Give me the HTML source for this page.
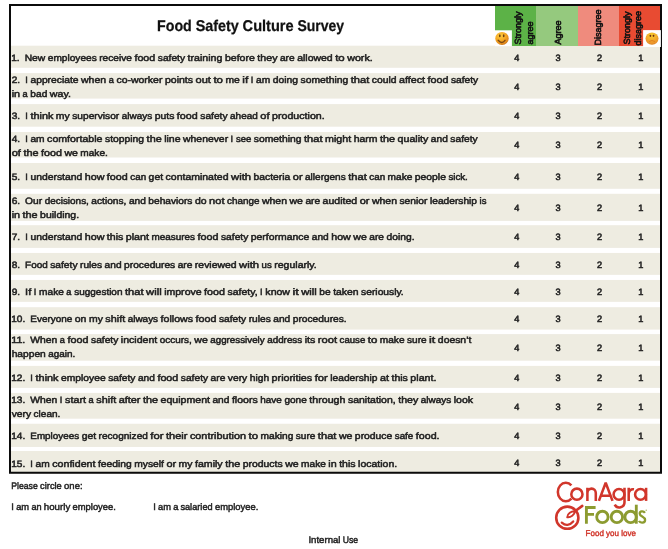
<!DOCTYPE html>
<html><head><meta charset="utf-8"><title>Food Safety Culture Survey</title>
<style>
html,body{margin:0;padding:0;background:#fff;}
body{width:668px;height:549px;position:relative;overflow:hidden;font-family:"Liberation Sans",sans-serif;}
svg{position:absolute;left:0;top:0;}
svg.tx{will-change:transform;filter:blur(0.55px);}
svg text{font-family:"Liberation Sans",sans-serif;text-rendering:geometricPrecision;}
</style></head><body>
<svg width="668" height="549" viewBox="0 0 668 549">
<g fill="#EEECE1">
<rect x="11" y="45.7" width="649" height="22.1"/>
<rect x="11" y="73.1" width="649" height="25.5"/>
<rect x="11" y="104.1" width="649" height="22.6"/>
<rect x="11" y="132.0" width="649" height="25.5"/>
<rect x="11" y="163.0" width="649" height="25.8"/>
<rect x="11" y="193.8" width="649" height="27.1"/>
<rect x="11" y="225.2" width="649" height="22.7"/>
<rect x="11" y="252.95" width="649" height="21.9"/>
<rect x="11" y="279.95" width="649" height="21.9"/>
<rect x="11" y="307.2" width="649" height="22.4"/>
<rect x="11" y="334.1" width="649" height="26.6"/>
<rect x="11" y="365.9" width="649" height="22.0"/>
<rect x="11" y="392.9" width="649" height="25.8"/>
<rect x="11" y="423.75" width="649" height="23.2"/>
<rect x="11" y="451.0" width="649" height="22.6"/>
</g>
<rect x="495" y="6" width="41" height="40.0" fill="#5CB247"/>
<rect x="536" y="6" width="42" height="40.0" fill="#95C97E"/>
<rect x="578" y="6" width="41" height="40.0" fill="#EF8B7D"/>
<rect x="619" y="6" width="41" height="40.0" fill="#E84B32"/>
<rect x="495" y="30.3" width="16.9" height="15.9" fill="#fff"/>
<path d="M10 5 H661 V472.7 H10 Z" fill="none" stroke="#0b0b0b" stroke-width="2"/>
<rect x="643.1" y="30.1" width="17.8" height="16.9" fill="#fff"/>
</svg>
<svg width="668" height="549" viewBox="0 0 668 549">
<defs>
<radialGradient id="sg" cx="0.38" cy="0.3" r="0.78"><stop offset="0" stop-color="#FCCB40"/><stop offset="0.5" stop-color="#F5A822"/><stop offset="0.82" stop-color="#E2891B"/><stop offset="1" stop-color="#B8650F"/></radialGradient>
<radialGradient id="fg" cx="0.48" cy="0.24" r="0.82"><stop offset="0" stop-color="#F6CC2E"/><stop offset="0.45" stop-color="#F3AE2C"/><stop offset="0.8" stop-color="#EA922A"/><stop offset="1" stop-color="#CC781D"/></radialGradient>
</defs>
<ellipse cx="502" cy="38.4" rx="6.7" ry="6.5" fill="url(#sg)"/>
<ellipse cx="499.8" cy="35.8" rx="0.85" ry="1.5" fill="#6a3f10"/><ellipse cx="503.7" cy="35.8" rx="0.85" ry="1.5" fill="#6a3f10"/>
<path d="M498.2 40.3 Q501.8 44.6 505 40.3" fill="none" stroke="#7a4712" stroke-width="1.4" stroke-linecap="round"/>
<ellipse cx="652" cy="38.6" rx="6.5" ry="6.1" fill="url(#fg)"/>
<ellipse cx="650.4" cy="35.8" rx="0.9" ry="1.1" fill="#6e300f"/><ellipse cx="653.5" cy="35.8" rx="0.9" ry="1.1" fill="#6e300f"/>
<path d="M649.4 41.3 Q652 39.5 654.6 41.3" fill="none" stroke="#DE7E22" stroke-width="1.0" stroke-linecap="round"/>
</svg>
<svg class="tx" width="668" height="549" viewBox="0 0 668 549">
<g font-size="15.6" font-weight="bold" fill="#111" stroke="#111" stroke-width="0.25"><text x="157.00" y="31.00" textLength="34.77" lengthAdjust="spacingAndGlyphs">Food</text><text x="195.63" y="31.00" textLength="43.12" lengthAdjust="spacingAndGlyphs">Safety</text><text x="242.60" y="31.00" textLength="51.06" lengthAdjust="spacingAndGlyphs">Culture</text><text x="297.51" y="31.00" textLength="46.64" lengthAdjust="spacingAndGlyphs">Survey</text></g>
<g font-size="9.2" fill="#222222" stroke="#222222" stroke-width="0.5">
<text x="11.25" y="61.00" textLength="8.42" lengthAdjust="spacingAndGlyphs">1.</text><text x="24.68" y="61.00" textLength="20.59" lengthAdjust="spacingAndGlyphs">New</text><text x="47.78" y="61.00" textLength="48.97" lengthAdjust="spacingAndGlyphs">employees</text><text x="99.25" y="61.00" textLength="32.65" lengthAdjust="spacingAndGlyphs">receive</text><text x="134.41" y="61.00" textLength="20.90" lengthAdjust="spacingAndGlyphs">food</text><text x="157.81" y="61.00" textLength="27.27" lengthAdjust="spacingAndGlyphs">safety</text><text x="187.59" y="61.00" textLength="34.84" lengthAdjust="spacingAndGlyphs">training</text><text x="224.94" y="61.00" textLength="29.95" lengthAdjust="spacingAndGlyphs">before</text><text x="257.39" y="61.00" textLength="20.07" lengthAdjust="spacingAndGlyphs">they</text><text x="279.97" y="61.00" textLength="14.69" lengthAdjust="spacingAndGlyphs">are</text><text x="297.17" y="61.00" textLength="35.51" lengthAdjust="spacingAndGlyphs">allowed</text><text x="335.18" y="61.00" textLength="9.56" lengthAdjust="spacingAndGlyphs">to</text><text x="347.24" y="61.00" textLength="25.47" lengthAdjust="spacingAndGlyphs">work.</text>
<text x="516.70" y="61" text-anchor="middle" stroke-width="0.55">4</text><text x="558.10" y="61" text-anchor="middle" stroke-width="0.55">3</text><text x="599.50" y="61" text-anchor="middle" stroke-width="0.55">2</text><text x="640.80" y="61" text-anchor="middle" stroke-width="0.55">1</text>
<text x="11.70" y="83.00" textLength="8.42" lengthAdjust="spacingAndGlyphs">2.</text><text x="25.13" y="83.00">I</text><text x="30.43" y="83.00" textLength="48.11" lengthAdjust="spacingAndGlyphs">appreciate</text><text x="81.04" y="83.00" textLength="25.09" lengthAdjust="spacingAndGlyphs">when</text><text x="108.63" y="83.00">a</text><text x="116.45" y="83.00" textLength="45.98" lengthAdjust="spacingAndGlyphs">co-worker</text><text x="164.94" y="83.00" textLength="28.09" lengthAdjust="spacingAndGlyphs">points</text><text x="195.53" y="83.00" textLength="15.38" lengthAdjust="spacingAndGlyphs">out</text><text x="213.42" y="83.00" textLength="9.56" lengthAdjust="spacingAndGlyphs">to</text><text x="225.48" y="83.00" textLength="14.37" lengthAdjust="spacingAndGlyphs">me</text><text x="242.36" y="83.00" textLength="5.93" lengthAdjust="spacingAndGlyphs">if</text><text x="250.79" y="83.00">I</text><text x="256.09" y="83.00" textLength="14.16" lengthAdjust="spacingAndGlyphs">am</text><text x="272.76" y="83.00" textLength="25.26" lengthAdjust="spacingAndGlyphs">doing</text><text x="300.52" y="83.00" textLength="47.67" lengthAdjust="spacingAndGlyphs">something</text><text x="350.70" y="83.00" textLength="18.56" lengthAdjust="spacingAndGlyphs">that</text><text x="371.77" y="83.00" textLength="24.72" lengthAdjust="spacingAndGlyphs">could</text><text x="399.00" y="83.00" textLength="25.99" lengthAdjust="spacingAndGlyphs">affect</text><text x="427.50" y="83.00" textLength="20.90" lengthAdjust="spacingAndGlyphs">food</text><text x="450.90" y="83.00" textLength="27.27" lengthAdjust="spacingAndGlyphs">safety</text>
<text x="11.70" y="97.00" textLength="8.37" lengthAdjust="spacingAndGlyphs">in</text><text x="22.57" y="97.00">a</text><text x="30.39" y="97.00" textLength="16.96" lengthAdjust="spacingAndGlyphs">bad</text><text x="49.85" y="97.00" textLength="21.05" lengthAdjust="spacingAndGlyphs">way.</text>
<text x="516.70" y="90" text-anchor="middle" stroke-width="0.55">4</text><text x="558.10" y="90" text-anchor="middle" stroke-width="0.55">3</text><text x="599.50" y="90" text-anchor="middle" stroke-width="0.55">2</text><text x="640.80" y="90" text-anchor="middle" stroke-width="0.55">1</text>
<text x="11.70" y="119.00" textLength="8.42" lengthAdjust="spacingAndGlyphs">3.</text><text x="25.13" y="119.00">I</text><text x="30.43" y="119.00" textLength="22.94" lengthAdjust="spacingAndGlyphs">think</text><text x="55.88" y="119.00" textLength="13.87" lengthAdjust="spacingAndGlyphs">my</text><text x="72.26" y="119.00" textLength="46.96" lengthAdjust="spacingAndGlyphs">supervisor</text><text x="121.72" y="119.00" textLength="30.44" lengthAdjust="spacingAndGlyphs">always</text><text x="154.67" y="119.00" textLength="19.70" lengthAdjust="spacingAndGlyphs">puts</text><text x="176.87" y="119.00" textLength="20.90" lengthAdjust="spacingAndGlyphs">food</text><text x="200.27" y="119.00" textLength="27.27" lengthAdjust="spacingAndGlyphs">safety</text><text x="230.06" y="119.00" textLength="27.78" lengthAdjust="spacingAndGlyphs">ahead</text><text x="260.34" y="119.00" textLength="9.23" lengthAdjust="spacingAndGlyphs">of</text><text x="272.08" y="119.00" textLength="52.59" lengthAdjust="spacingAndGlyphs">production.</text>
<text x="516.70" y="119" text-anchor="middle" stroke-width="0.55">4</text><text x="558.10" y="119" text-anchor="middle" stroke-width="0.55">3</text><text x="599.50" y="119" text-anchor="middle" stroke-width="0.55">2</text><text x="640.80" y="119" text-anchor="middle" stroke-width="0.55">1</text>
<text x="11.70" y="142.00" textLength="8.42" lengthAdjust="spacingAndGlyphs">4.</text><text x="25.13" y="142.00">I</text><text x="30.43" y="142.00" textLength="14.16" lengthAdjust="spacingAndGlyphs">am</text><text x="47.10" y="142.00" textLength="55.39" lengthAdjust="spacingAndGlyphs">comfortable</text><text x="104.99" y="142.00" textLength="39.13" lengthAdjust="spacingAndGlyphs">stopping</text><text x="146.63" y="142.00" textLength="15.05" lengthAdjust="spacingAndGlyphs">the</text><text x="164.18" y="142.00" textLength="16.43" lengthAdjust="spacingAndGlyphs">line</text><text x="183.12" y="142.00" textLength="44.99" lengthAdjust="spacingAndGlyphs">whenever</text><text x="230.61" y="142.00">I</text><text x="235.91" y="142.00" textLength="15.37" lengthAdjust="spacingAndGlyphs">see</text><text x="253.78" y="142.00" textLength="47.67" lengthAdjust="spacingAndGlyphs">something</text><text x="303.96" y="142.00" textLength="18.56" lengthAdjust="spacingAndGlyphs">that</text><text x="325.03" y="142.00" textLength="26.15" lengthAdjust="spacingAndGlyphs">might</text><text x="353.69" y="142.00" textLength="23.85" lengthAdjust="spacingAndGlyphs">harm</text><text x="380.05" y="142.00" textLength="15.05" lengthAdjust="spacingAndGlyphs">the</text><text x="397.61" y="142.00" textLength="30.78" lengthAdjust="spacingAndGlyphs">quality</text><text x="430.89" y="142.00" textLength="16.96" lengthAdjust="spacingAndGlyphs">and</text><text x="450.35" y="142.00" textLength="27.27" lengthAdjust="spacingAndGlyphs">safety</text>
<text x="11.70" y="156.00" textLength="9.23" lengthAdjust="spacingAndGlyphs">of</text><text x="23.43" y="156.00" textLength="15.05" lengthAdjust="spacingAndGlyphs">the</text><text x="40.99" y="156.00" textLength="20.90" lengthAdjust="spacingAndGlyphs">food</text><text x="64.40" y="156.00" textLength="13.44" lengthAdjust="spacingAndGlyphs">we</text><text x="80.34" y="156.00" textLength="27.52" lengthAdjust="spacingAndGlyphs">make.</text>
<text x="516.70" y="148" text-anchor="middle" stroke-width="0.55">4</text><text x="558.10" y="148" text-anchor="middle" stroke-width="0.55">3</text><text x="599.50" y="148" text-anchor="middle" stroke-width="0.55">2</text><text x="640.80" y="148" text-anchor="middle" stroke-width="0.55">1</text>
<text x="11.70" y="180.00" textLength="8.42" lengthAdjust="spacingAndGlyphs">5.</text><text x="25.13" y="180.00">I</text><text x="30.43" y="180.00" textLength="51.86" lengthAdjust="spacingAndGlyphs">understand</text><text x="84.79" y="180.00" textLength="19.59" lengthAdjust="spacingAndGlyphs">how</text><text x="106.89" y="180.00" textLength="20.90" lengthAdjust="spacingAndGlyphs">food</text><text x="130.30" y="180.00" textLength="15.82" lengthAdjust="spacingAndGlyphs">can</text><text x="148.62" y="180.00" textLength="14.45" lengthAdjust="spacingAndGlyphs">get</text><text x="165.57" y="180.00" textLength="62.96" lengthAdjust="spacingAndGlyphs">contaminated</text><text x="231.05" y="180.00" textLength="20.00" lengthAdjust="spacingAndGlyphs">with</text><text x="253.56" y="180.00" textLength="36.77" lengthAdjust="spacingAndGlyphs">bacteria</text><text x="292.83" y="180.00" textLength="9.71" lengthAdjust="spacingAndGlyphs">or</text><text x="305.05" y="180.00" textLength="40.67" lengthAdjust="spacingAndGlyphs">allergens</text><text x="348.22" y="180.00" textLength="18.56" lengthAdjust="spacingAndGlyphs">that</text><text x="369.29" y="180.00" textLength="15.82" lengthAdjust="spacingAndGlyphs">can</text><text x="387.62" y="180.00" textLength="24.72" lengthAdjust="spacingAndGlyphs">make</text><text x="414.84" y="180.00" textLength="31.07" lengthAdjust="spacingAndGlyphs">people</text><text x="448.42" y="180.00" textLength="19.40" lengthAdjust="spacingAndGlyphs">sick.</text>
<text x="516.70" y="180" text-anchor="middle" stroke-width="0.55">4</text><text x="558.10" y="180" text-anchor="middle" stroke-width="0.55">3</text><text x="599.50" y="180" text-anchor="middle" stroke-width="0.55">2</text><text x="640.80" y="180" text-anchor="middle" stroke-width="0.55">1</text>
<text x="11.70" y="204.00" textLength="8.42" lengthAdjust="spacingAndGlyphs">6.</text><text x="25.13" y="204.00" textLength="17.03" lengthAdjust="spacingAndGlyphs">Our</text><text x="44.66" y="204.00" textLength="44.22" lengthAdjust="spacingAndGlyphs">decisions,</text><text x="91.39" y="204.00" textLength="35.02" lengthAdjust="spacingAndGlyphs">actions,</text><text x="128.92" y="204.00" textLength="16.96" lengthAdjust="spacingAndGlyphs">and</text><text x="148.38" y="204.00" textLength="44.07" lengthAdjust="spacingAndGlyphs">behaviors</text><text x="194.96" y="204.00" textLength="11.67" lengthAdjust="spacingAndGlyphs">do</text><text x="209.14" y="204.00" textLength="15.38" lengthAdjust="spacingAndGlyphs">not</text><text x="227.02" y="204.00" textLength="32.38" lengthAdjust="spacingAndGlyphs">change</text><text x="261.91" y="204.00" textLength="25.09" lengthAdjust="spacingAndGlyphs">when</text><text x="289.50" y="204.00" textLength="13.44" lengthAdjust="spacingAndGlyphs">we</text><text x="305.45" y="204.00" textLength="14.69" lengthAdjust="spacingAndGlyphs">are</text><text x="322.64" y="204.00" textLength="34.55" lengthAdjust="spacingAndGlyphs">audited</text><text x="359.70" y="204.00" textLength="9.71" lengthAdjust="spacingAndGlyphs">or</text><text x="371.92" y="204.00" textLength="25.09" lengthAdjust="spacingAndGlyphs">when</text><text x="399.51" y="204.00" textLength="27.93" lengthAdjust="spacingAndGlyphs">senior</text><text x="429.95" y="204.00" textLength="47.10" lengthAdjust="spacingAndGlyphs">leadership</text><text x="479.55" y="204.00" textLength="6.88" lengthAdjust="spacingAndGlyphs">is</text>
<text x="11.70" y="218.00" textLength="8.37" lengthAdjust="spacingAndGlyphs">in</text><text x="22.57" y="218.00" textLength="15.05" lengthAdjust="spacingAndGlyphs">the</text><text x="40.13" y="218.00" textLength="38.94" lengthAdjust="spacingAndGlyphs">building.</text>
<text x="516.70" y="211" text-anchor="middle" stroke-width="0.55">4</text><text x="558.10" y="211" text-anchor="middle" stroke-width="0.55">3</text><text x="599.50" y="211" text-anchor="middle" stroke-width="0.55">2</text><text x="640.80" y="211" text-anchor="middle" stroke-width="0.55">1</text>
<text x="11.70" y="240.00" textLength="8.42" lengthAdjust="spacingAndGlyphs">7.</text><text x="25.13" y="240.00">I</text><text x="30.43" y="240.00" textLength="51.86" lengthAdjust="spacingAndGlyphs">understand</text><text x="84.79" y="240.00" textLength="19.59" lengthAdjust="spacingAndGlyphs">how</text><text x="106.89" y="240.00" textLength="16.42" lengthAdjust="spacingAndGlyphs">this</text><text x="125.81" y="240.00" textLength="23.21" lengthAdjust="spacingAndGlyphs">plant</text><text x="151.53" y="240.00" textLength="43.56" lengthAdjust="spacingAndGlyphs">measures</text><text x="197.60" y="240.00" textLength="20.90" lengthAdjust="spacingAndGlyphs">food</text><text x="221.00" y="240.00" textLength="27.27" lengthAdjust="spacingAndGlyphs">safety</text><text x="250.78" y="240.00" textLength="58.49" lengthAdjust="spacingAndGlyphs">performance</text><text x="311.77" y="240.00" textLength="16.96" lengthAdjust="spacingAndGlyphs">and</text><text x="331.24" y="240.00" textLength="19.59" lengthAdjust="spacingAndGlyphs">how</text><text x="353.34" y="240.00" textLength="13.44" lengthAdjust="spacingAndGlyphs">we</text><text x="369.28" y="240.00" textLength="14.69" lengthAdjust="spacingAndGlyphs">are</text><text x="386.48" y="240.00" textLength="28.05" lengthAdjust="spacingAndGlyphs">doing.</text>
<text x="516.70" y="240" text-anchor="middle" stroke-width="0.55">4</text><text x="558.10" y="240" text-anchor="middle" stroke-width="0.55">3</text><text x="599.50" y="240" text-anchor="middle" stroke-width="0.55">2</text><text x="640.80" y="240" text-anchor="middle" stroke-width="0.55">1</text>
<text x="11.70" y="268.00" textLength="8.42" lengthAdjust="spacingAndGlyphs">8.</text><text x="25.13" y="268.00" textLength="22.61" lengthAdjust="spacingAndGlyphs">Food</text><text x="50.24" y="268.00" textLength="27.27" lengthAdjust="spacingAndGlyphs">safety</text><text x="80.02" y="268.00" textLength="22.08" lengthAdjust="spacingAndGlyphs">rules</text><text x="104.61" y="268.00" textLength="16.96" lengthAdjust="spacingAndGlyphs">and</text><text x="124.08" y="268.00" textLength="51.10" lengthAdjust="spacingAndGlyphs">procedures</text><text x="177.68" y="268.00" textLength="14.69" lengthAdjust="spacingAndGlyphs">are</text><text x="194.88" y="268.00" textLength="41.71" lengthAdjust="spacingAndGlyphs">reviewed</text><text x="239.09" y="268.00" textLength="20.00" lengthAdjust="spacingAndGlyphs">with</text><text x="261.61" y="268.00" textLength="10.16" lengthAdjust="spacingAndGlyphs">us</text><text x="274.27" y="268.00" textLength="42.50" lengthAdjust="spacingAndGlyphs">regularly.</text>
<text x="516.70" y="268" text-anchor="middle" stroke-width="0.55">4</text><text x="558.10" y="268" text-anchor="middle" stroke-width="0.55">3</text><text x="599.50" y="268" text-anchor="middle" stroke-width="0.55">2</text><text x="640.80" y="268" text-anchor="middle" stroke-width="0.55">1</text>
<text x="11.70" y="295.00" textLength="8.42" lengthAdjust="spacingAndGlyphs">9.</text><text x="25.13" y="295.00" textLength="6.18" lengthAdjust="spacingAndGlyphs">If</text><text x="33.81" y="295.00">I</text><text x="39.11" y="295.00" textLength="24.72" lengthAdjust="spacingAndGlyphs">make</text><text x="66.33" y="295.00">a</text><text x="74.15" y="295.00" textLength="48.37" lengthAdjust="spacingAndGlyphs">suggestion</text><text x="125.03" y="295.00" textLength="18.56" lengthAdjust="spacingAndGlyphs">that</text><text x="146.09" y="295.00" textLength="15.56" lengthAdjust="spacingAndGlyphs">will</text><text x="164.16" y="295.00" textLength="37.46" lengthAdjust="spacingAndGlyphs">improve</text><text x="204.12" y="295.00" textLength="20.90" lengthAdjust="spacingAndGlyphs">food</text><text x="227.52" y="295.00" textLength="30.04" lengthAdjust="spacingAndGlyphs">safety,</text><text x="260.07" y="295.00">I</text><text x="265.37" y="295.00" textLength="24.63" lengthAdjust="spacingAndGlyphs">know</text><text x="292.51" y="295.00" textLength="6.26" lengthAdjust="spacingAndGlyphs">it</text><text x="301.27" y="295.00" textLength="15.56" lengthAdjust="spacingAndGlyphs">will</text><text x="319.33" y="295.00" textLength="11.34" lengthAdjust="spacingAndGlyphs">be</text><text x="333.18" y="295.00" textLength="25.40" lengthAdjust="spacingAndGlyphs">taken</text><text x="361.08" y="295.00" textLength="42.62" lengthAdjust="spacingAndGlyphs">seriously.</text>
<text x="516.70" y="295" text-anchor="middle" stroke-width="0.55">4</text><text x="558.10" y="295" text-anchor="middle" stroke-width="0.55">3</text><text x="599.50" y="295" text-anchor="middle" stroke-width="0.55">2</text><text x="640.80" y="295" text-anchor="middle" stroke-width="0.55">1</text>
<text x="11.25" y="322.00" textLength="14.03" lengthAdjust="spacingAndGlyphs">10.</text><text x="30.30" y="322.00" textLength="42.00" lengthAdjust="spacingAndGlyphs">Everyone</text><text x="74.80" y="322.00" textLength="11.67" lengthAdjust="spacingAndGlyphs">on</text><text x="88.98" y="322.00" textLength="13.87" lengthAdjust="spacingAndGlyphs">my</text><text x="105.36" y="322.00" textLength="19.80" lengthAdjust="spacingAndGlyphs">shift</text><text x="127.66" y="322.00" textLength="30.44" lengthAdjust="spacingAndGlyphs">always</text><text x="160.61" y="322.00" textLength="32.42" lengthAdjust="spacingAndGlyphs">follows</text><text x="195.54" y="322.00" textLength="20.90" lengthAdjust="spacingAndGlyphs">food</text><text x="218.94" y="322.00" textLength="27.27" lengthAdjust="spacingAndGlyphs">safety</text><text x="248.72" y="322.00" textLength="22.08" lengthAdjust="spacingAndGlyphs">rules</text><text x="273.31" y="322.00" textLength="16.96" lengthAdjust="spacingAndGlyphs">and</text><text x="292.78" y="322.00" textLength="53.90" lengthAdjust="spacingAndGlyphs">procedures.</text>
<text x="516.70" y="322" text-anchor="middle" stroke-width="0.55">4</text><text x="558.10" y="322" text-anchor="middle" stroke-width="0.55">3</text><text x="599.50" y="322" text-anchor="middle" stroke-width="0.55">2</text><text x="640.80" y="322" text-anchor="middle" stroke-width="0.55">1</text>
<text x="11.25" y="343.00" textLength="14.03" lengthAdjust="spacingAndGlyphs">11.</text><text x="30.30" y="343.00" textLength="27.03" lengthAdjust="spacingAndGlyphs">When</text><text x="59.83" y="343.00">a</text><text x="67.64" y="343.00" textLength="20.90" lengthAdjust="spacingAndGlyphs">food</text><text x="91.05" y="343.00" textLength="27.27" lengthAdjust="spacingAndGlyphs">safety</text><text x="120.83" y="343.00" textLength="36.48" lengthAdjust="spacingAndGlyphs">incident</text><text x="159.81" y="343.00" textLength="32.01" lengthAdjust="spacingAndGlyphs">occurs,</text><text x="194.33" y="343.00" textLength="13.44" lengthAdjust="spacingAndGlyphs">we</text><text x="210.27" y="343.00" textLength="54.42" lengthAdjust="spacingAndGlyphs">aggressively</text><text x="267.20" y="343.00" textLength="35.01" lengthAdjust="spacingAndGlyphs">address</text><text x="304.72" y="343.00" textLength="10.59" lengthAdjust="spacingAndGlyphs">its</text><text x="317.81" y="343.00" textLength="19.27" lengthAdjust="spacingAndGlyphs">root</text><text x="339.59" y="343.00" textLength="25.67" lengthAdjust="spacingAndGlyphs">cause</text><text x="367.77" y="343.00" textLength="9.56" lengthAdjust="spacingAndGlyphs">to</text><text x="379.83" y="343.00" textLength="24.72" lengthAdjust="spacingAndGlyphs">make</text><text x="407.06" y="343.00" textLength="19.54" lengthAdjust="spacingAndGlyphs">sure</text><text x="429.10" y="343.00" textLength="6.26" lengthAdjust="spacingAndGlyphs">it</text><text x="437.87" y="343.00" textLength="33.50" lengthAdjust="spacingAndGlyphs">doesn’t</text>
<text x="11.70" y="357.00" textLength="34.12" lengthAdjust="spacingAndGlyphs">happen</text><text x="48.33" y="357.00" textLength="27.00" lengthAdjust="spacingAndGlyphs">again.</text>
<text x="516.70" y="351" text-anchor="middle" stroke-width="0.55">4</text><text x="558.10" y="351" text-anchor="middle" stroke-width="0.55">3</text><text x="599.50" y="351" text-anchor="middle" stroke-width="0.55">2</text><text x="640.80" y="351" text-anchor="middle" stroke-width="0.55">1</text>
<text x="11.25" y="381.00" textLength="14.03" lengthAdjust="spacingAndGlyphs">12.</text><text x="30.30" y="381.00">I</text><text x="35.60" y="381.00" textLength="22.94" lengthAdjust="spacingAndGlyphs">think</text><text x="61.05" y="381.00" textLength="44.63" lengthAdjust="spacingAndGlyphs">employee</text><text x="108.18" y="381.00" textLength="27.27" lengthAdjust="spacingAndGlyphs">safety</text><text x="137.96" y="381.00" textLength="16.96" lengthAdjust="spacingAndGlyphs">and</text><text x="157.43" y="381.00" textLength="20.90" lengthAdjust="spacingAndGlyphs">food</text><text x="180.83" y="381.00" textLength="27.27" lengthAdjust="spacingAndGlyphs">safety</text><text x="210.61" y="381.00" textLength="14.69" lengthAdjust="spacingAndGlyphs">are</text><text x="227.81" y="381.00" textLength="19.40" lengthAdjust="spacingAndGlyphs">very</text><text x="249.72" y="381.00" textLength="19.41" lengthAdjust="spacingAndGlyphs">high</text><text x="271.63" y="381.00" textLength="40.59" lengthAdjust="spacingAndGlyphs">priorities</text><text x="314.73" y="381.00" textLength="13.09" lengthAdjust="spacingAndGlyphs">for</text><text x="330.33" y="381.00" textLength="47.10" lengthAdjust="spacingAndGlyphs">leadership</text><text x="379.94" y="381.00" textLength="9.02" lengthAdjust="spacingAndGlyphs">at</text><text x="391.47" y="381.00" textLength="16.42" lengthAdjust="spacingAndGlyphs">this</text><text x="410.39" y="381.00" textLength="26.01" lengthAdjust="spacingAndGlyphs">plant.</text>
<text x="516.70" y="381" text-anchor="middle" stroke-width="0.55">4</text><text x="558.10" y="381" text-anchor="middle" stroke-width="0.55">3</text><text x="599.50" y="381" text-anchor="middle" stroke-width="0.55">2</text><text x="640.80" y="381" text-anchor="middle" stroke-width="0.55">1</text>
<text x="11.25" y="403.00" textLength="14.03" lengthAdjust="spacingAndGlyphs">13.</text><text x="30.30" y="403.00" textLength="27.03" lengthAdjust="spacingAndGlyphs">When</text><text x="59.83" y="403.00">I</text><text x="65.13" y="403.00" textLength="20.94" lengthAdjust="spacingAndGlyphs">start</text><text x="88.57" y="403.00">a</text><text x="96.38" y="403.00" textLength="19.80" lengthAdjust="spacingAndGlyphs">shift</text><text x="118.69" y="403.00" textLength="21.79" lengthAdjust="spacingAndGlyphs">after</text><text x="142.98" y="403.00" textLength="15.05" lengthAdjust="spacingAndGlyphs">the</text><text x="160.54" y="403.00" textLength="49.44" lengthAdjust="spacingAndGlyphs">equipment</text><text x="212.48" y="403.00" textLength="16.96" lengthAdjust="spacingAndGlyphs">and</text><text x="231.95" y="403.00" textLength="25.82" lengthAdjust="spacingAndGlyphs">floors</text><text x="260.27" y="403.00" textLength="21.66" lengthAdjust="spacingAndGlyphs">have</text><text x="284.43" y="403.00" textLength="22.40" lengthAdjust="spacingAndGlyphs">gone</text><text x="309.34" y="403.00" textLength="36.11" lengthAdjust="spacingAndGlyphs">through</text><text x="347.96" y="403.00" textLength="47.73" lengthAdjust="spacingAndGlyphs">sanitation,</text><text x="398.20" y="403.00" textLength="20.07" lengthAdjust="spacingAndGlyphs">they</text><text x="420.77" y="403.00" textLength="30.44" lengthAdjust="spacingAndGlyphs">always</text><text x="453.72" y="403.00" textLength="19.27" lengthAdjust="spacingAndGlyphs">look</text>
<text x="11.70" y="417.00" textLength="19.40" lengthAdjust="spacingAndGlyphs">very</text><text x="33.61" y="417.00" textLength="26.68" lengthAdjust="spacingAndGlyphs">clean.</text>
<text x="516.70" y="410" text-anchor="middle" stroke-width="0.55">4</text><text x="558.10" y="410" text-anchor="middle" stroke-width="0.55">3</text><text x="599.50" y="410" text-anchor="middle" stroke-width="0.55">2</text><text x="640.80" y="410" text-anchor="middle" stroke-width="0.55">1</text>
<text x="11.25" y="439.00" textLength="14.03" lengthAdjust="spacingAndGlyphs">14.</text><text x="30.30" y="439.00" textLength="48.86" lengthAdjust="spacingAndGlyphs">Employees</text><text x="81.67" y="439.00" textLength="14.45" lengthAdjust="spacingAndGlyphs">get</text><text x="98.62" y="439.00" textLength="49.22" lengthAdjust="spacingAndGlyphs">recognized</text><text x="150.34" y="439.00" textLength="13.09" lengthAdjust="spacingAndGlyphs">for</text><text x="165.94" y="439.00" textLength="21.46" lengthAdjust="spacingAndGlyphs">their</text><text x="189.91" y="439.00" textLength="56.05" lengthAdjust="spacingAndGlyphs">contribution</text><text x="248.47" y="439.00" textLength="9.56" lengthAdjust="spacingAndGlyphs">to</text><text x="260.53" y="439.00" textLength="32.79" lengthAdjust="spacingAndGlyphs">making</text><text x="295.83" y="439.00" textLength="19.54" lengthAdjust="spacingAndGlyphs">sure</text><text x="317.87" y="439.00" textLength="18.56" lengthAdjust="spacingAndGlyphs">that</text><text x="338.94" y="439.00" textLength="13.44" lengthAdjust="spacingAndGlyphs">we</text><text x="354.88" y="439.00" textLength="37.38" lengthAdjust="spacingAndGlyphs">produce</text><text x="394.78" y="439.00" textLength="18.54" lengthAdjust="spacingAndGlyphs">safe</text><text x="415.83" y="439.00" textLength="23.70" lengthAdjust="spacingAndGlyphs">food.</text>
<text x="516.70" y="439" text-anchor="middle" stroke-width="0.55">4</text><text x="558.10" y="439" text-anchor="middle" stroke-width="0.55">3</text><text x="599.50" y="439" text-anchor="middle" stroke-width="0.55">2</text><text x="640.80" y="439" text-anchor="middle" stroke-width="0.55">1</text>
<text x="11.25" y="467.00" textLength="14.03" lengthAdjust="spacingAndGlyphs">15.</text><text x="30.30" y="467.00">I</text><text x="35.60" y="467.00" textLength="14.16" lengthAdjust="spacingAndGlyphs">am</text><text x="52.27" y="467.00" textLength="43.16" lengthAdjust="spacingAndGlyphs">confident</text><text x="97.93" y="467.00" textLength="33.82" lengthAdjust="spacingAndGlyphs">feeding</text><text x="134.26" y="467.00" textLength="29.65" lengthAdjust="spacingAndGlyphs">myself</text><text x="166.42" y="467.00" textLength="9.71" lengthAdjust="spacingAndGlyphs">or</text><text x="178.63" y="467.00" textLength="13.87" lengthAdjust="spacingAndGlyphs">my</text><text x="195.01" y="467.00" textLength="27.65" lengthAdjust="spacingAndGlyphs">family</text><text x="225.17" y="467.00" textLength="15.05" lengthAdjust="spacingAndGlyphs">the</text><text x="242.73" y="467.00" textLength="39.92" lengthAdjust="spacingAndGlyphs">products</text><text x="285.15" y="467.00" textLength="13.44" lengthAdjust="spacingAndGlyphs">we</text><text x="301.10" y="467.00" textLength="24.72" lengthAdjust="spacingAndGlyphs">make</text><text x="328.33" y="467.00" textLength="8.37" lengthAdjust="spacingAndGlyphs">in</text><text x="339.20" y="467.00" textLength="16.42" lengthAdjust="spacingAndGlyphs">this</text><text x="358.12" y="467.00" textLength="39.11" lengthAdjust="spacingAndGlyphs">location.</text>
<text x="516.70" y="466" text-anchor="middle" stroke-width="0.55">4</text><text x="558.10" y="466" text-anchor="middle" stroke-width="0.55">3</text><text x="599.50" y="466" text-anchor="middle" stroke-width="0.55">2</text><text x="640.80" y="466" text-anchor="middle" stroke-width="0.55">1</text>
</g>
<g font-size="9.0" fill="#141414" stroke="#141414" stroke-width="0.6">
<text transform="translate(521.3,44.4) rotate(-90)">Strongly</text>
<text transform="translate(532.7,44.5) rotate(-90)">agree</text>
<text transform="translate(560.6,44.5) rotate(-90)">Agree</text>
<text transform="translate(601.4,45.4) rotate(-90)">Disagree</text>
<text transform="translate(630.3,44.4) rotate(-90)">Strongly</text>
<text transform="translate(641.4,45.4) rotate(-90)">disagree</text>
</g>
<g font-size="9.4" fill="#222222" stroke="#222222" stroke-width="0.45">
<text x="11.30" y="489.30" textLength="26.45" lengthAdjust="spacingAndGlyphs">Please</text><text x="40.04" y="489.30" textLength="21.79" lengthAdjust="spacingAndGlyphs">circle</text><text x="64.12" y="489.30" textLength="18.42" lengthAdjust="spacingAndGlyphs">one:</text>
<text x="11.30" y="510.40">I</text><text x="16.14" y="510.40" textLength="12.94" lengthAdjust="spacingAndGlyphs">am</text><text x="31.38" y="510.40" textLength="10.17" lengthAdjust="spacingAndGlyphs">an</text><text x="43.84" y="510.40" textLength="26.43" lengthAdjust="spacingAndGlyphs">hourly</text><text x="72.56" y="510.40" textLength="43.34" lengthAdjust="spacingAndGlyphs">employee.</text>
<text x="153.20" y="510.40">I</text><text x="158.04" y="510.40" textLength="12.94" lengthAdjust="spacingAndGlyphs">am</text><text x="173.28" y="510.40">a</text><text x="180.42" y="510.40" textLength="32.21" lengthAdjust="spacingAndGlyphs">salaried</text><text x="214.92" y="510.40" textLength="43.34" lengthAdjust="spacingAndGlyphs">employee.</text>
<text x="308.40" y="542.50" textLength="32.08" lengthAdjust="spacingAndGlyphs">Internal</text><text x="342.76" y="542.50" textLength="15.38" lengthAdjust="spacingAndGlyphs">Use</text>
</g>
</svg>
<svg style="position:absolute;left:548px;top:474px;will-change:transform" width="120" height="75" viewBox="548 474 120 75">
<g fill="none" stroke="#D1362B" stroke-width="2.55">
<path d="M571.4 485.3 A8 9.3 0 1 0 571.4 498.7"/>
<circle cx="576.9" cy="494.2" r="5.6"/>
<path d="M587.4 500.9 V487.8 M587.4 493.2 A4.2 4.6 0 0 1 595.8 493.2 V500.9"/>
<path d="M598.9 500.9 L605.7 482.7 L612.5 500.9 M601.2 495.7 H610.2" stroke-linejoin="bevel"/>
<circle cx="619.0" cy="494.4" r="5.4"/>
<path d="M624.5 487.8 V502 A5.2 5.2 0 0 1 614.7 504.6"/>
<path d="M628.7 500.9 V487.8 M628.7 494 C628.7 490.5 631 488.8 634 489.3"/>
<circle cx="640.5" cy="494.4" r="5.4"/>
<path d="M646.1 487.8 V500.9"/>
</g>
<g fill="none" stroke="#8C9B30" stroke-width="2.85">
<path d="M586.4 523.7 V507.5 H595.6 M586.4 514.4 H594"/>
<circle cx="602.4" cy="516.9" r="5.7"/>
<circle cx="616.9" cy="516.9" r="5.7"/>
<circle cx="630.6" cy="516.9" r="5.7"/>
<path d="M636.3 504.7 V523.7"/>
<path d="M644.9 512.8 C643.6 510.7 639.7 510.8 639.7 513.7 C639.7 516.7 645.1 516.5 645.1 520 C645.1 523.4 640.1 523.4 639 520.9" stroke-width="2.3"/>
</g>
<circle cx="646.2" cy="510.2" r="0.6" fill="#8C9B30"/>
<g fill="none" stroke="#D1362B" stroke-linecap="round">
<circle cx="567.3" cy="517.7" r="11.1" stroke-width="2.6"/>
<path d="M582.3 505.9 L574.6 511.5" stroke-width="2.6"/>
<path d="M575 511.3 C571.5 510.8 567.2 514 567.2 517.2 C570.5 517.8 574.8 514.8 575 511.3 Z" stroke-width="1.9" stroke-linejoin="round"/>
<path d="M561.8 522.6 Q567.5 527.8 573.2 521.4" stroke-width="2.3"/>
</g>
<text x="585.6" y="535.7" font-family="Liberation Sans, sans-serif" font-size="8.3" fill="#D1362B" stroke="#D1362B" stroke-width="0.4" textLength="50.4" lengthAdjust="spacingAndGlyphs" style="text-rendering:geometricPrecision">Food you love</text>
</svg>
</body></html>
